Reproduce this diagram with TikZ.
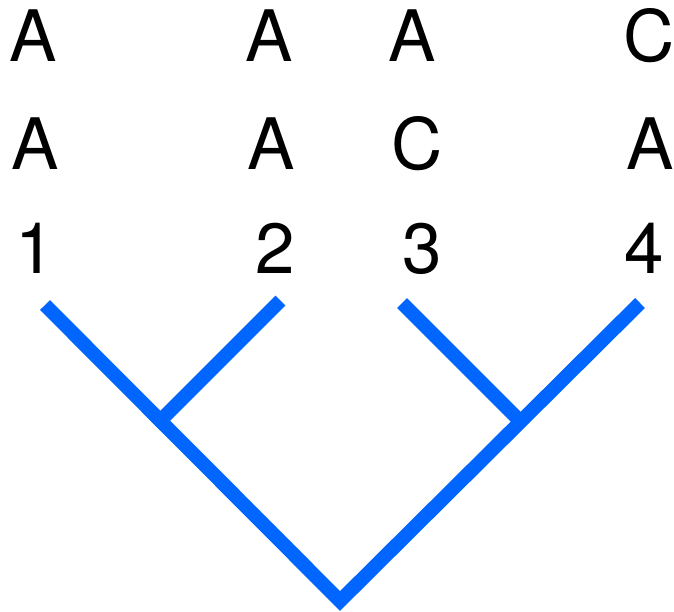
\documentclass[tikz,border=0pt]{standalone}
\usepackage{fontspec}
\setmainfont{TeX Gyre Heros}
\definecolor{treeblue}{RGB}{0,102,255}

\begin{document}
\begin{tikzpicture}[x=1pt, y=-1pt,
  site/.style={anchor=base, inner sep=0pt, font=\fontsize{71}{71}\selectfont},
  branch/.style={line width=14pt, draw=treeblue, line cap=butt, line join=miter}
]
  \useasboundingbox (0,0) rectangle (674,611);

  % First site
  \node[site] (s1a) at (33,61)  {A};
  \node[site] (s1b) at (269,61) {A};
  \node[site] (s1c) at (412,61) {A};
  \node[site] (s1d) at (649,61) {C};

  % Second site
  \node[site] (s2a) at (35,169)  {A};
  \node[site] (s2b) at (271,169) {A};
  \node[site] (s2c) at (417,169) {C};
  \node[site] (s2d) at (650,169) {A};

  % Taxon numbers
  \node[site] (n1) at (35,273)  {1};
  \node[site] (n2) at (275,273) {2};
  \node[site] (n3) at (422,273) {3};
  \node[site] (n4) at (644,273) {4};

  % Tips, inner nodes and root
  \coordinate (t1) at (45,305);
  \coordinate (t2) at (280.5,300.5);
  \coordinate (t3) at (402,303);
  \coordinate (t4) at (640,303);
  \coordinate (u12) at (155.5,425.5);
  \coordinate (u34) at (524,425);
  \coordinate (root) at (340,601);

  % Branches
  \draw[branch] (t1) -- (root) -- (t4);
  \draw[branch] (t2) -- (u12);
  \draw[branch] (t3) -- (u34);
\end{tikzpicture}
\end{document}
